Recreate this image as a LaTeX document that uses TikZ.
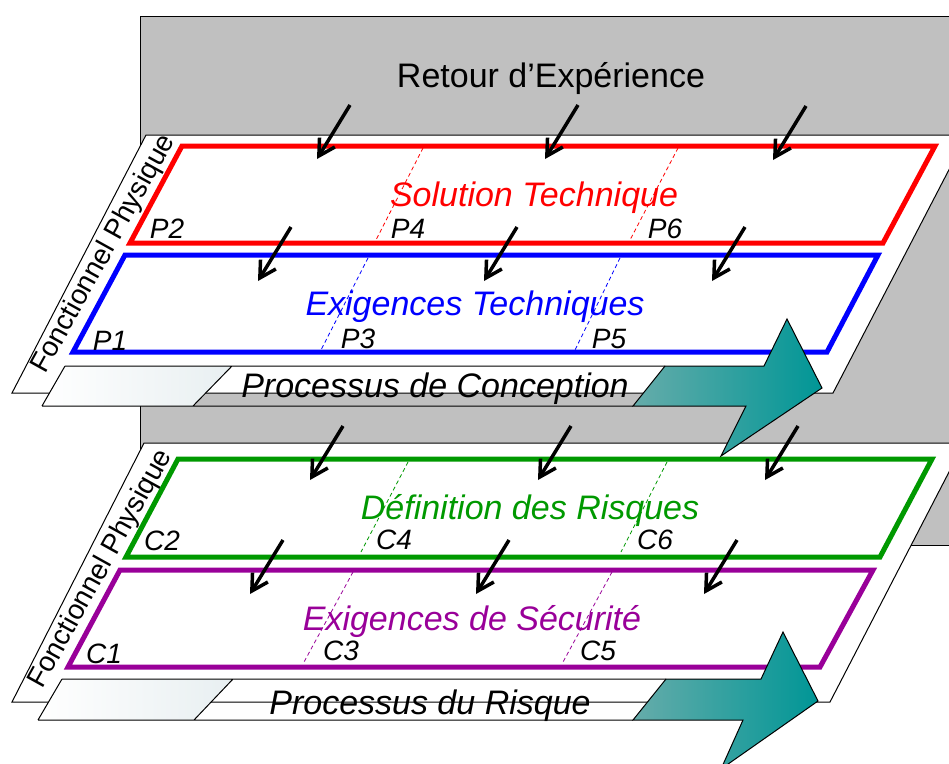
\documentclass[tikz,border=0pt]{standalone}
\usepackage{fontspec}
\setmainfont{Liberation Sans}
\usetikzlibrary{arrows.meta}

\definecolor{bggray}{RGB}{192,192,192}
\definecolor{riskgreen}{RGB}{0,153,0}
\definecolor{secpurple}{RGB}{153,0,153}
\definecolor{tealL}{RGB}{102,172,170}
\definecolor{tealR}{RGB}{0,150,150}
\definecolor{bandgray}{RGB}{232,239,241}

\begin{document}
\begin{tikzpicture}[x=1pt, y=-1pt,
  plane/.style={fill=white, draw=black, line width=1pt},
  frame/.style={line width=5pt, line join=miter},
  guide/.style={line width=0.8pt, dash pattern=on 4pt off 3pt},
  feed/.style={line width=3.5pt, -{Straight Barb[length=16pt, width=18pt]}},
  lbl/.style={font=\fontsize{34}{40}\selectfont\itshape, anchor=base, inner sep=0pt},
  tag/.style={font=\fontsize{28}{32}\selectfont\itshape, anchor=base, inner sep=0pt},
  side/.style={font=\fontsize{28}{32}\selectfont, rotate=61, inner sep=0pt}]
  \clip (0,0) rectangle (949,763);

  % retour d'experience
  \filldraw[fill=bggray, draw=black, line width=1pt] (140,16) rectangle (960,545);
  \node[font=\fontsize{34}{40}\selectfont, anchor=base, inner sep=0pt] (retex) at (551,87) {Retour d’Expérience};

  % plan du risque
  \filldraw[plane] (12,702) -- (830,702) -- (964,443) -- (144,443) -- cycle;
  \node[side] (fpC) at (101,569) {Fonctionnel Physique};
  \draw[frame, riskgreen] (126,557) -- (880,557) -- (932,459) -- (178,459) -- cycle;
  \draw[frame, secpurple] (68,667) -- (820,667) -- (873,570) -- (120,570) -- cycle;
  \draw[guide, riskgreen] (408,462) -- (361,552);
  \draw[guide, riskgreen] (667,462) -- (621,552);
  \draw[guide, secpurple] (353,572) -- (304,662);
  \draw[guide, secpurple] (612,572) -- (563,662);
  \node[lbl, riskgreen] (defrisk) at (530,519) {Définition des Risques};
  \node[lbl, secpurple] (exisec) at (472,630) {Exigences de Sécurité};
  \node[tag] (C2) at (162,550) {C2};
  \node[tag] (C4) at (394,549) {C4};
  \node[tag] (C6) at (655,549) {C6};
  \node[tag] (C1) at (104,663) {C1};
  \node[tag] (C3) at (341,660) {C3};
  \node[tag] (C5) at (598,660) {C5};

  \shade[left color=white, right color=bandgray] (38,720) -- (194,720) -- (233,679) -- (62,679) -- cycle;
  \draw[line width=1pt] (62,679) -- (666,679) (38,720) -- (633,720) (38,720) -- (62,679) (194,720) -- (233,679);
  \node[lbl] (procrisk) at (430,714) {Processus du Risque};
  \shade[left color=tealL, right color=tealR, draw=black, line width=1pt]
    (666,679) -- (761,679) -- (783,632) -- (818,701) -- (721,769) -- (743,720) -- (633,720) -- cycle;

  % plan de conception
  \filldraw[plane] (12,393) -- (833,393) -- (967,135) -- (146,135) -- cycle;
  \node[side] (fpP) at (104,254) {Fonctionnel Physique};
  \draw[frame, red] (130,243) -- (883,243) -- (935,146) -- (182,146) -- cycle;
  \draw[frame, blue] (73,352) -- (827,352) -- (878,255) -- (125,255) -- cycle;
  \draw[guide, red] (423,148) -- (376,240);
  \draw[guide, red] (678,148) -- (630,240);
  \draw[guide, blue] (368,258) -- (321,350);
  \draw[guide, blue] (620,258) -- (575,350);
  \node[lbl, red] (soltech) at (534,206) {Solution Technique};
  \node[lbl, blue] (exitech) at (475,315) {Exigences Techniques};
  \node[tag] (P2) at (167,238) {P2};
  \node[tag] (P4) at (408,238) {P4};
  \node[tag] (P6) at (665,238) {P6};
  \node[tag] (P1) at (110,350) {P1};
  \node[tag] (P3) at (358,348) {P3};
  \node[tag] (P5) at (609,348) {P5};

  \shade[left color=white, right color=bandgray] (42,406) -- (193,406) -- (232,366) -- (65,366) -- cycle;
  \draw[line width=1pt] (65,366) -- (665,366) (42,406) -- (633,406) (42,406) -- (65,366) (193,406) -- (232,366);
  \node[lbl] (procconc) at (435,397) {Processus de Conception};
  \shade[left color=tealL, right color=tealR, draw=black, line width=1pt]
    (665,366) -- (764,366) -- (787,319) -- (822,388) -- (721,456) -- (746,406) -- (633,406) -- cycle;

  % fleches
  \foreach \x/\y in {350/105, 578/105, 806/106, 291/227, 517/227, 745/227,
                     343/426, 571/426, 798/426, 283/540, 509/540, 737/540}
    \draw[feed] (\x,\y) -- ++(-33,54);
\end{tikzpicture}
\end{document}
